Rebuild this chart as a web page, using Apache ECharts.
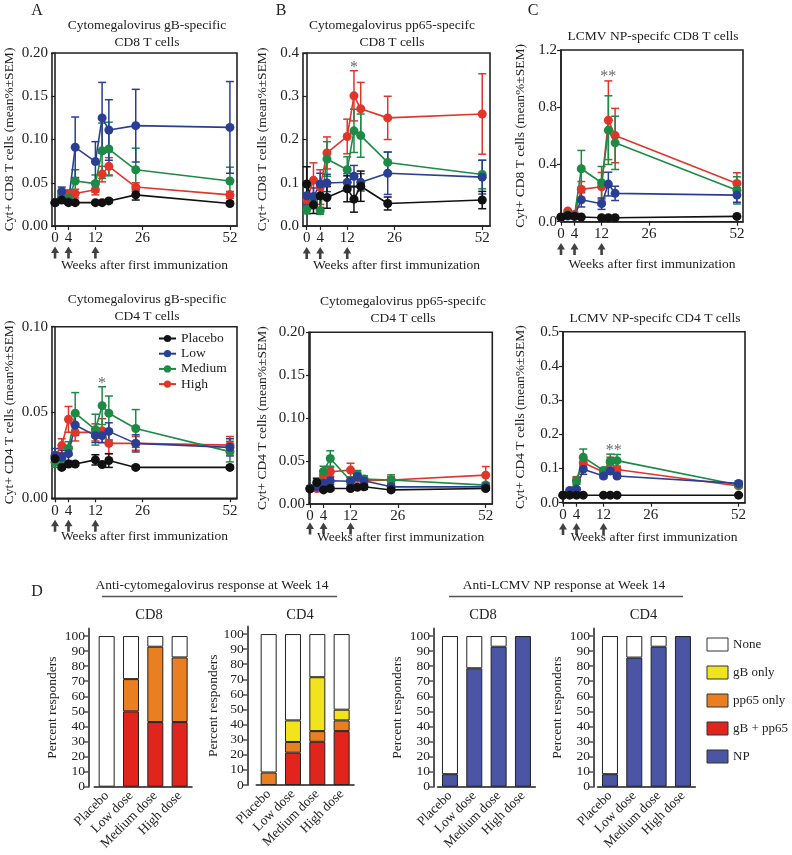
<!DOCTYPE html>
<html><head><meta charset="utf-8">
<script src="https://cdn.jsdelivr.net/npm/echarts@6/dist/echarts.min.js"></script>
<style>html,body{margin:0;padding:0;background:#fff}#c{width:792px;height:855px}</style>
</head><body><div id="c"></div><script>
// ---------------- DATA ----------------
const groups = ['Placebo', 'Low', 'Medium', 'High'];
const weeksAll = [0, 2, 4, 6, 12, 14, 16, 24, 52];
const weeksNP = [0, 2, 4, 6, 12, 14, 16, 52];
const weekTicks = [0, 4, 12, 26, 52];
const immunizationWeeks = [0, 4, 12];

// A: CMV gB-specific CD8
const gbCD8Placebo = [0.027, 0.030, 0.027, 0.027, 0.027, 0.027, 0.029, 0.036, 0.026];
const gbCD8PlaceboSem = [0.002, 0.002, 0.001, 0.001, 0.001, 0.001, 0.002, 0.006, 0.002];
const gbCD8Low = [0.027, 0.040, 0.028, 0.091, 0.0745, 0.125, 0.111, 0.116, 0.114];
const gbCD8LowSem = [0.002, 0.005, 0.003, 0.035, 0.023, 0.041, 0.035, 0.042, 0.053];
const gbCD8Medium = [0.027, 0.034, 0.032, 0.052, 0.049, 0.087, 0.089, 0.065, 0.052];
const gbCD8MediumSem = [0.002, 0.004, 0.004, 0.013, 0.010, 0.032, 0.031, 0.025, 0.016];
const gbCD8High = [0.027, 0.037, 0.0375, 0.0375, 0.042, 0.060, 0.069, 0.045, 0.036];
const gbCD8HighSem = [0.002, 0.004, 0.004, 0.005, 0.006, 0.009, 0.010, 0.005, 0.004];

// B: CMV pp65-specific CD8
const ppCD8Placebo = [0.097, 0.049, 0.070, 0.066, 0.086, 0.062, 0.092, 0.052, 0.060];
const ppCD8PlaceboSem = [0.040, 0.020, 0.030, 0.025, 0.030, 0.030, 0.035, 0.015, 0.020];
const ppCD8Low = [0.070, 0.068, 0.097, 0.0995, 0.101, 0.115, 0.101, 0.122, 0.113];
const ppCD8LowSem = [0.020, 0.020, 0.025, 0.020, 0.020, 0.025, 0.020, 0.049, 0.039];
const ppCD8Medium = [0.038, 0.055, 0.035, 0.155, 0.130, 0.220, 0.209, 0.147, 0.119];
const ppCD8MediumSem = [0.010, 0.015, 0.008, 0.040, 0.030, 0.050, 0.050, 0.024, 0.033];
const ppCD8High = [0.060, 0.106, 0.090, 0.169, 0.207, 0.301, 0.271, 0.250, 0.259];
const ppCD8HighSem = [0.010, 0.040, 0.040, 0.037, 0.040, 0.058, 0.061, 0.050, 0.093];

// C: LCMV NP-specific CD8
const npCD8Placebo = [0.033, 0.044, 0.037, 0.033, 0.028, 0.028, 0.028, 0.037];
const npCD8PlaceboSem = [0.004, 0.004, 0.004, 0.004, 0.003, 0.003, 0.003, 0.004];
const npCD8Low = [0.030, 0.040, 0.040, 0.153, 0.126, 0.263, 0.198, 0.186];
const npCD8LowSem = [0.005, 0.008, 0.008, 0.050, 0.040, 0.083, 0.050, 0.050];
const npCD8Medium = [0.030, 0.050, 0.045, 0.370, 0.272, 0.640, 0.551, 0.219];
const npCD8MediumSem = [0.005, 0.010, 0.010, 0.128, 0.114, 0.240, 0.186, 0.095];
const npCD8High = [0.030, 0.074, 0.050, 0.226, 0.244, 0.709, 0.602, 0.267];
const npCD8HighSem = [0.005, 0.010, 0.010, 0.055, 0.100, 0.275, 0.190, 0.075];

// A: CMV gB-specific CD4
const gbCD4Placebo = [0.023, 0.018, 0.020, 0.020, 0.0224, 0.0197, 0.022, 0.018, 0.018];
const gbCD4PlaceboSem = [0.003, 0.001, 0.001, 0.001, 0.003, 0.001, 0.004, 0.001, 0.001];
const gbCD4Low = [0.025, 0.024, 0.026, 0.0427, 0.0365, 0.0365, 0.039, 0.032, 0.0297];
const gbCD4LowSem = [0.004, 0.004, 0.004, 0.006, 0.004, 0.004, 0.005, 0.005, 0.005];
const gbCD4Medium = [0.021, 0.023, 0.029, 0.0496, 0.040, 0.054, 0.0496, 0.0407, 0.0272];
const gbCD4MediumSem = [0.003, 0.003, 0.004, 0.012, 0.009, 0.011, 0.010, 0.011, 0.006];
const gbCD4High = [0.024, 0.0307, 0.046, 0.0384, 0.0384, 0.0394, 0.032, 0.032, 0.031];
const gbCD4HighSem = [0.003, 0.004, 0.0075, 0.005, 0.005, 0.007, 0.006, 0.004, 0.005];

// B: CMV pp65-specific CD4
const ppCD4Placebo = [0.0176, 0.025, 0.0164, 0.018, 0.018, 0.0195, 0.020, 0.0164, 0.018];
const ppCD4PlaceboSem = [0.002, 0.005, 0.002, 0.002, 0.002, 0.002, 0.003, 0.002, 0.002];
const ppCD4Low = [0.018, 0.020, 0.024, 0.027, 0.0265, 0.032, 0.027, 0.020, 0.020];
const ppCD4LowSem = [0.002, 0.003, 0.004, 0.004, 0.004, 0.005, 0.004, 0.003, 0.003];
const ppCD4Medium = [0.018, 0.022, 0.038, 0.053, 0.027, 0.034, 0.029, 0.028, 0.022];
const ppCD4MediumSem = [0.002, 0.003, 0.006, 0.009, 0.004, 0.005, 0.004, 0.006, 0.003];
const ppCD4High = [0.018, 0.018, 0.034, 0.0375, 0.0395, 0.030, 0.027, 0.028, 0.0336];
const ppCD4HighSem = [0.002, 0.003, 0.005, 0.005, 0.008, 0.004, 0.004, 0.004, 0.010];

// C: LCMV NP-specific CD4
const npCD4Placebo = [0.022, 0.022, 0.022, 0.022, 0.022, 0.022, 0.022, 0.022];
const npCD4PlaceboSem = [0.002, 0.002, 0.002, 0.002, 0.002, 0.002, 0.002, 0.002];
const npCD4Low = [0.022, 0.036, 0.039, 0.098, 0.078, 0.093, 0.078, 0.0565];
const npCD4LowSem = [0.002, 0.004, 0.005, 0.015, 0.006, 0.010, 0.006, 0.006];
const npCD4Medium = [0.022, 0.030, 0.064, 0.133, 0.0945, 0.122, 0.123, 0.052];
const npCD4MediumSem = [0.002, 0.004, 0.010, 0.024, 0.008, 0.020, 0.018, 0.005];
const npCD4High = [0.022, 0.030, 0.066, 0.117, 0.090, 0.118, 0.097, 0.049];
const npCD4HighSem = [0.002, 0.004, 0.010, 0.012, 0.008, 0.015, 0.010, 0.005];

// significance markers [week, value, text]
const ppCD8Stars = [[14, 0.365, '*']];
const npCD8Stars = [[14, 1.01, '**']];
const gbCD4Stars = [[14, 0.067, '*']];
const npCD4Stars = [[15, 0.152, '**']];

// D: percent responders at week 14
const doseGroups = ['Placebo', 'Low dose', 'Medium dose', 'High dose'];
const percentTicks = [0, 10, 20, 30, 40, 50, 60, 70, 80, 90, 100];
const cmvCD8gBpp65 = [0, 50, 42.9, 42.9];
const cmvCD8pp65Only = [0, 21.4, 50, 42.9];
const cmvCD8gBOnly = [0, 0, 0, 0];
const cmvCD8None = [100, 28.6, 7.1, 14.2];
const cmvCD4gBpp65 = [0, 21.4, 28.6, 35.7];
const cmvCD4pp65Only = [8.3, 7.1, 7.1, 7.1];
const cmvCD4gBOnly = [0, 14.3, 35.7, 7.1];
const cmvCD4None = [91.7, 57.2, 28.6, 50.1];
const npCD8Resp = [8.3, 78.6, 92.9, 100];
const npCD8None = [91.7, 21.4, 7.1, 0];
const npCD4Resp = [8.3, 85.7, 92.9, 100];
const npCD4None = [91.7, 14.3, 7.1, 0];
const responseCategories = ['None', 'gB only', 'pp65 only', 'gB + pp65', 'NP'];

// ---------------- STYLE / LAYOUT ----------------
const FONT = '"Liberation Serif", "DejaVu Serif", serif';
const lineColors = { Placebo: '#111111', Low: '#2a3f93', Medium: '#1d8a46', High: '#e0352b' };
const segColors = { 'None': '#ffffff', 'gB only': '#f1e31c', 'pp65 only': '#ea7f22', 'gB + pp65': '#e2251c', 'NP': '#4a55a3' };
const xName = 'Weeks after first immunization';
const cd8Name = 'Cyt+ CD8 T cells (mean%\u00b1SEM)';
const cd4Name = 'Cyt+ CD4 T cells (mean%\u00b1SEM)';

const linePanels = [
  { weeks: weeksAll, vals: { Placebo: [gbCD8Placebo, gbCD8PlaceboSem], Low: [gbCD8Low, gbCD8LowSem], Medium: [gbCD8Medium, gbCD8MediumSem], High: [gbCD8High, gbCD8HighSem] },
    grid: { left: 52, top: 53, width: 185, height: 173 }, xMin: -0.9, xMax: 54.1, yMax: 0.2, yInt: 0.05, dec: 2, yName: cd8Name, yGap: 36, xGap: 32, arrow: 26.5, stars: null },
  { weeks: weeksAll, vals: { Placebo: [ppCD8Placebo, ppCD8PlaceboSem], Low: [ppCD8Low, ppCD8LowSem], Medium: [ppCD8Medium, ppCD8MediumSem], High: [ppCD8High, ppCD8HighSem] },
    grid: { left: 303, top: 53, width: 187, height: 173 }, xMin: -1.1, xMax: 54.3, yMax: 0.4, yInt: 0.1, dec: 1, yName: cd8Name, yGap: 34, xGap: 32, arrow: 27, stars: ppCD8Stars },
  { weeks: weeksNP, vals: { Placebo: [npCD8Placebo, npCD8PlaceboSem], Low: [npCD8Low, npCD8LowSem], Medium: [npCD8Medium, npCD8MediumSem], High: [npCD8High, npCD8HighSem] },
    grid: { left: 561, top: 50, width: 182, height: 171.7 }, xMin: 0, xMax: 53.8, yMax: 1.2, yInt: 0.4, dec: 1, yName: cd8Name, yGap: 34, xGap: 36, arrow: 27.3, stars: npCD8Stars },
  { weeks: weeksAll, vals: { Placebo: [gbCD4Placebo, gbCD4PlaceboSem], Low: [gbCD4Low, gbCD4LowSem], Medium: [gbCD4Medium, gbCD4MediumSem], High: [gbCD4High, gbCD4HighSem] },
    grid: { left: 52, top: 326.7, width: 185, height: 171.6 }, xMin: -0.9, xMax: 54.1, yMax: 0.1, yInt: 0.05, dec: 2, yName: cd4Name, yGap: 36, xGap: 31.5, arrow: 27.5, stars: gbCD4Stars },
  { weeks: weeksAll, vals: { Placebo: [ppCD4Placebo, ppCD4PlaceboSem], Low: [ppCD4Low, ppCD4LowSem], Medium: [ppCD4Medium, ppCD4MediumSem], High: [ppCD4High, ppCD4HighSem] },
    grid: { left: 309, top: 332.3, width: 183.3, height: 171.7 }, xMin: -0.3, xMax: 53.95, yMax: 0.2, yInt: 0.05, dec: 2, yName: cd4Name, yGap: 40, xGap: 26, arrow: 24.5, stars: null },
  { weeks: weeksNP, vals: { Placebo: [npCD4Placebo, npCD4PlaceboSem], Low: [npCD4Low, npCD4LowSem], Medium: [npCD4Medium, npCD4MediumSem], High: [npCD4High, npCD4HighSem] },
    grid: { left: 563, top: 331.7, width: 182, height: 171 }, xMin: 0, xMax: 53.9, yMax: 0.5, yInt: 0.1, dec: 1, yName: cd4Name, yGap: 36, xGap: 27.3, arrow: 26.3, stars: npCD4Stars }
];

const barPanels = [
  { grid: { left: 94.5, top: 628.5, width: 97.3, height: 158.2 }, offset: 5.5, gap: 30,
    segs: [['gB + pp65', cmvCD8gBpp65], ['pp65 only', cmvCD8pp65Only], ['gB only', cmvCD8gBOnly], ['None', cmvCD8None]] },
  { grid: { left: 256.5, top: 626.5, width: 97.3, height: 158.5 }, offset: 8.8, gap: 27,
    segs: [['gB + pp65', cmvCD4gBpp65], ['pp65 only', cmvCD4pp65Only], ['gB only', cmvCD4gBOnly], ['None', cmvCD4None]] },
  { grid: { left: 437.8, top: 628.5, width: 97.3, height: 158.2 }, offset: 3.8, gap: 30,
    segs: [['NP', npCD8Resp], ['None', npCD8None]] },
  { grid: { left: 597.8, top: 628.5, width: 97.3, height: 158.2 }, offset: 3.8, gap: 30,
    segs: [['NP', npCD4Resp], ['None', npCD4None]] }
];

const arrowPath = 'path://M4,0 L8,6.5 L5.3,6.5 L5.3,12 L2.7,12 L2.7,6.5 L0,6.5 Z';

function errRender(params, api) {
  const x = api.value(0), lo = api.value(1), hi = api.value(2);
  const p1 = api.coord([x, lo]), p2 = api.coord([x, hi]);
  const w = 4;
  const style = { stroke: api.visual('color'), lineWidth: 1.5, fill: null };
  return { type: 'group', children: [
    { type: 'line', shape: { x1: p1[0], y1: p1[1], x2: p2[0], y2: p2[1] }, style: style },
    { type: 'line', shape: { x1: p1[0] - w, y1: p1[1], x2: p1[0] + w, y2: p1[1] }, style: style },
    { type: 'line', shape: { x1: p2[0] - w, y1: p2[1], x2: p2[0] + w, y2: p2[1] }, style: style }
  ]};
}

const grids = [], xAxes = [], yAxes = [], series = [];
const axisCol = '#222';

linePanels.forEach((p, i) => {
  grids.push(Object.assign({ show: true, borderColor: axisCol, borderWidth: 1.6, backgroundColor: 'transparent' }, p.grid));
  xAxes.push({ type: 'value', gridIndex: i, min: p.xMin, max: p.xMax,
    axisLine: { onZero: false, lineStyle: { color: axisCol, width: 1.6 } },
    axisTick: { customValues: weekTicks, length: 4, lineStyle: { color: axisCol, width: 1.2 } },
    axisLabel: { customValues: weekTicks, fontFamily: FONT, fontSize: 15, color: '#222', margin: 5 },
    splitLine: { show: false },
    name: xName, nameLocation: 'middle', nameGap: p.xGap, nameMoveOverlap: false,
    nameTextStyle: { fontFamily: FONT, fontSize: 13.5, color: '#222' } });
  yAxes.push({ type: 'value', gridIndex: i, min: 0, max: p.yMax, interval: p.yInt,
    axisLine: { lineStyle: { color: axisCol, width: 1.6 } },
    axisTick: { length: 4, lineStyle: { color: axisCol, width: 1.2 } },
    axisLabel: { fontFamily: FONT, fontSize: 15, color: '#222', margin: 4, formatter: v => v.toFixed(p.dec) },
    splitLine: { show: false },
    name: p.yName, nameLocation: 'middle', nameGap: p.yGap, nameMoveOverlap: false,
    nameTextStyle: { fontFamily: FONT, fontSize: 13.5, color: '#222' } });
  const order = ['High', 'Medium', 'Low', 'Placebo'];
  order.forEach(g => {
    const mean = p.vals[g][0], sem = p.vals[g][1];
    series.push({ type: 'custom', name: g + ' SEM', xAxisIndex: i, yAxisIndex: i, z: 2, silent: true,
      itemStyle: { color: lineColors[g] }, renderItem: errRender, encode: { x: 0, y: [1, 2] },
      data: p.weeks.map((w, k) => [w, mean[k] - sem[k], mean[k] + sem[k]]) });
  });
  order.forEach(g => {
    const mean = p.vals[g][0];
    series.push({ type: 'line', name: g, xAxisIndex: i, yAxisIndex: i, z: 3,
      symbol: 'circle', symbolSize: 9, showAllSymbol: true,
      lineStyle: { color: lineColors[g], width: 1.6 }, itemStyle: { color: lineColors[g] },
      data: p.weeks.map((w, k) => [w, mean[k]]) });
  });
  series.push({ type: 'scatter', name: 'immunization', xAxisIndex: i, yAxisIndex: i, clip: false, silent: true, z: 4,
    symbol: arrowPath, symbolSize: [8, 12], symbolOffset: [0, p.arrow], itemStyle: { color: '#111' },
    data: immunizationWeeks.map(w => [w, 0]) });
  if (p.stars) {
    series.push({ type: 'scatter', name: 'sig', xAxisIndex: i, yAxisIndex: i, silent: true, z: 5,
      symbolSize: 2, itemStyle: { color: 'rgba(0,0,0,0)' },
      label: { show: true, position: 'inside', formatter: q => q.data[2], fontFamily: FONT, fontSize: 16, color: '#444' },
      data: p.stars });
  }
});

barPanels.forEach((b, j) => {
  const gi = linePanels.length + j;
  grids.push(Object.assign({ show: false }, b.grid));
  xAxes.push({ type: 'category', gridIndex: gi, data: doseGroups,
    axisLine: { lineStyle: { color: '#555', width: 2 } },
    axisTick: { alignWithLabel: true, length: 5, lineStyle: { color: '#555', width: 1.5 } },
    axisLabel: { interval: 0, rotate: 45, fontFamily: FONT, fontSize: 13.5, color: '#222', margin: 7 } });
  yAxes.push({ type: 'value', gridIndex: gi, min: 0, max: 105, offset: b.offset,
    axisLine: { show: true, lineStyle: { color: '#555', width: 2 } },
    axisTick: { show: true, customValues: percentTicks, length: 5, lineStyle: { color: '#555', width: 1.5 } },
    axisLabel: { customValues: percentTicks, fontFamily: FONT, fontSize: 13.5, color: '#222', margin: 4 },
    splitLine: { show: false },
    name: 'Percent responders', nameLocation: 'middle', nameGap: b.gap, nameMoveOverlap: false,
    nameTextStyle: { fontFamily: FONT, fontSize: 13.5, color: '#222' } });
  b.segs.forEach(s => {
    series.push({ type: 'bar', name: s[0], xAxisIndex: gi, yAxisIndex: gi, stack: 'resp' + j, barWidth: 16,
      itemStyle: { color: segColors[s[0]], borderColor: '#222', borderWidth: 1 },
      data: s[1].map(v => v === 0 ? '-' : v) });
  });
});

const txt = (t, x, y, size, extra) => Object.assign({ type: 'text', x: x, y: y, silent: true,
  style: { text: t, fontFamily: FONT, fontSize: size, fill: '#222', textAlign: 'center', textVerticalAlign: 'middle', lineHeight: 17 } }, extra || {});

const graphics = [
  txt('A', 37, 11, 16), txt('B', 281, 11, 16), txt('C', 533, 11, 16), txt('D', 37, 592, 16),
  txt('Cytomegalovirus gB-specific\nCD8 T cells', 147, 33.5, 13.5),
  txt('Cytomegalovirus pp65-specifc\nCD8 T cells', 392, 33.5, 13.5),
  txt('LCMV NP-specifc CD8 T cells', 653, 36.7, 13.5),
  txt('Cytomegalovirus gB-specific\nCD4 T cells', 147, 307.5, 13.5),
  txt('Cytomegalovirus pp65-specifc\nCD4 T cells', 403, 310.3, 13.5),
  txt('LCMV NP-specifc CD4 T cells', 655, 318.3, 13.5),
  txt('Anti-cytomegalovirus response at Week 14', 212, 585, 13.5),
  txt('Anti-LCMV NP response at Week 14', 564, 585, 13.5),
  txt('CD8', 149, 615, 14.5), txt('CD4', 300, 615, 14.5), txt('CD8', 483, 615, 14.5), txt('CD4', 643.5, 615, 14.5),
  { type: 'line', silent: true, shape: { x1: 102, y1: 596.5, x2: 337, y2: 596.5 }, style: { stroke: '#555', lineWidth: 1.5 } },
  { type: 'line', silent: true, shape: { x1: 449, y1: 596.5, x2: 683, y2: 596.5 }, style: { stroke: '#555', lineWidth: 1.5 } }
];

const option = {
  animation: false,
  backgroundColor: '#ffffff',
  textStyle: { fontFamily: FONT },
  grid: grids, xAxis: xAxes, yAxis: yAxes, series: series,
  legend: [
    { data: groups, orient: 'vertical', left: 153, top: 326.5, itemWidth: 17, itemHeight: 9, itemGap: 1.2, selectedMode: false,
      textStyle: { fontFamily: FONT, fontSize: 13.5, color: '#222' } },
    { data: responseCategories, orient: 'vertical', left: 701.5, top: 632.5, itemWidth: 21, itemHeight: 13, itemGap: 14, icon: 'rect', selectedMode: false,
      itemStyle: { borderColor: '#333', borderWidth: 1 },
      textStyle: { fontFamily: FONT, fontSize: 13, color: '#222' } }
  ],
  graphic: graphics
};

const chart = echarts.init(document.getElementById('c'), null, { renderer: 'canvas', width: 792, height: 855 });
chart.setOption(option);
</script></body></html>
